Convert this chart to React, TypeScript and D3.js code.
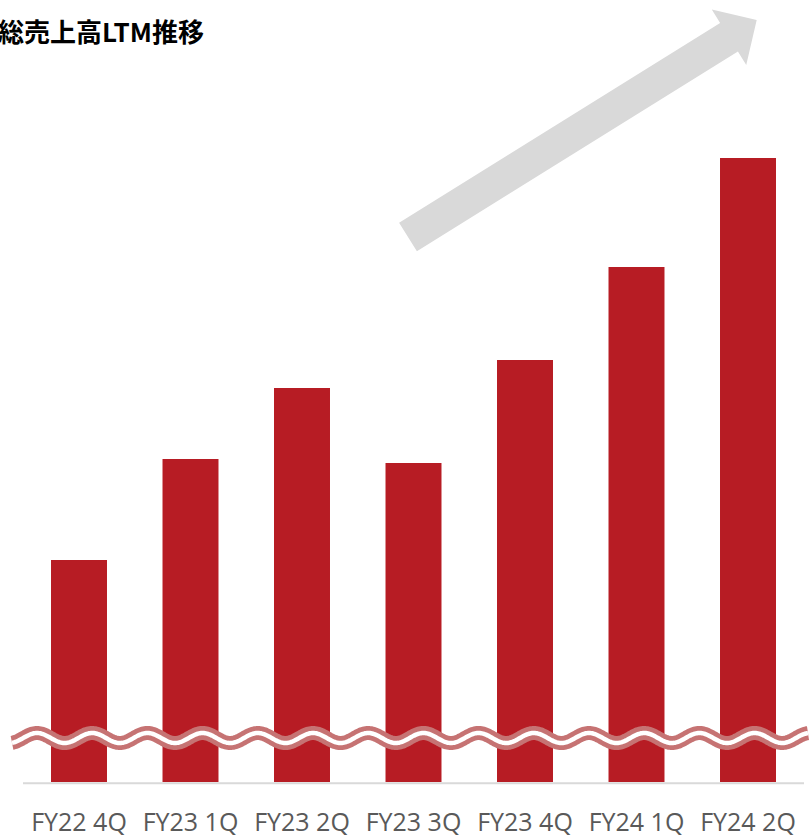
import React from "react";
import * as d3 from "d3";

const categories = ["FY22 4Q", "FY23 1Q", "FY23 2Q", "FY23 3Q", "FY23 4Q", "FY24 1Q", "FY24 2Q"];
const values = [44.4, 64.6, 78.8, 63.8, 84.4, 103.0, 124.8];
const title = "総売上高LTM推移";

const W = 810;
const H = 835;
const baseY = 782;

export default function App() {
  const x = d3
    .scaleBand<string>()
    .domain(categories)
    .range([23.25, 803.75])
    .paddingInner(0.498)
    .paddingOuter(0.249);
  const y = d3.scaleLinear().domain([0, 140]).range([baseY, 82]);

  // wavy break symbol
  const wavePts: [number, number][] = d3
    .range(12, 808.5, 1)
    .map((px) => [px, 738 - 5 * Math.cos((2 * Math.PI * (px - 37)) / 55.2)]);
  const wavePath = d3.line()(wavePts) || "";

  // trend arrow
  const tail: [number, number] = [408, 237];
  const tip: [number, number] = [756.7, 20];
  const dx = tip[0] - tail[0];
  const dy = tip[1] - tail[1];
  const len = Math.hypot(dx, dy);
  const ux = dx / len, uy = dy / len;
  const nx = -uy, ny = ux;
  const shaftHalf = 16.85, headHalf = 32.6, headLen = 32.6;
  const bx = tip[0] - ux * headLen, by = tip[1] - uy * headLen;
  const arrowPts: [number, number][] = [
    [tail[0] + nx * shaftHalf, tail[1] + ny * shaftHalf],
    [bx + nx * shaftHalf, by + ny * shaftHalf],
    [bx + nx * headHalf, by + ny * headHalf],
    tip,
    [bx - nx * headHalf, by - ny * headHalf],
    [bx - nx * shaftHalf, by - ny * shaftHalf],
    [tail[0] - nx * shaftHalf, tail[1] - ny * shaftHalf],
  ];
  const arrowPath = (d3.line()(arrowPts) || "") + "Z";

  return (
    <svg
      width={W}
      height={H}
      style={{ position: "absolute", left: 0, top: 0, background: "#fff" }}
    >
      <text
        x={-2}
        y={41.5}
        fontFamily="'Noto Sans CJK JP', sans-serif"
        fontWeight={700}
        fontSize={26}
        fill="#000"
      >
        {title}
      </text>
      <path d={arrowPath} fill="#d9d9d9" />
      {categories.map((c, i) => (
        <rect
          key={c}
          x={x(c)}
          y={y(values[i])}
          width={x.bandwidth()}
          height={baseY - y(values[i])}
          fill="#b71c24"
        />
      ))}
      <line x1={23} x2={804} y1={783.3} y2={783.3} stroke="#d9d9d9" strokeWidth={2} />
      <path d={wavePath} fill="none" stroke="#c67373" strokeWidth={14} strokeLinecap="butt" />
      <path d={wavePath} fill="none" stroke="#ffffff" strokeWidth={4.5} strokeLinecap="butt" />
      {categories.map((c) => (
        <text
          key={c}
          x={(x(c) || 0) + x.bandwidth() / 2}
          y={831}
          textAnchor="middle"
          fontFamily="'Open Sans', sans-serif"
          fontSize={25}
          fill="#595959"
        >
          {c}
        </text>
      ))}
    </svg>
  );
}
